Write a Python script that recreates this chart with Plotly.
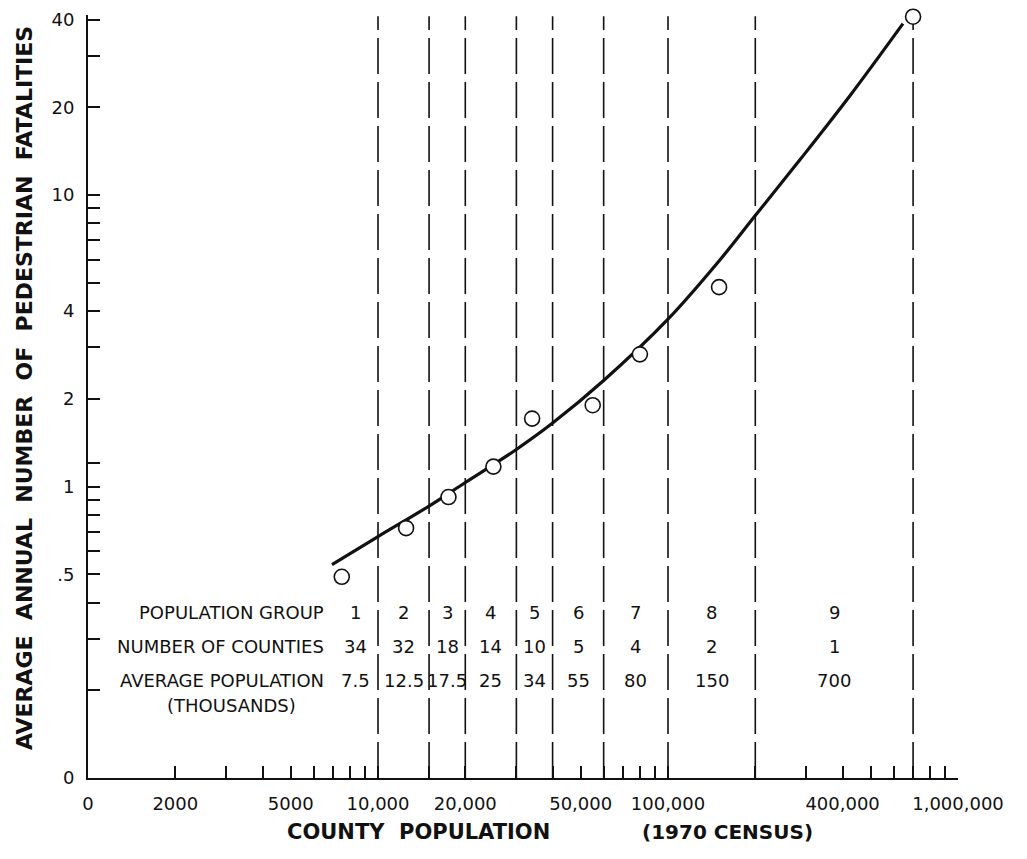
import numpy as np
import plotly.graph_objects as go

# ---------------- data ----------------
# observed group averages
group_avg_pop = [7500, 12500, 17500, 25000, 34000, 55000, 80000, 150000, 700000]
group_fatalities = [0.49, 0.72, 0.92, 1.17, 1.71, 1.90, 2.84, 4.83, 40.9]

# fitted curve
curve_pop = [6940, 10000, 15000, 20000, 30000, 40000, 60000, 100000,
             150000, 200000, 285000, 424000, 646000]
curve_fat = [0.539, 0.673, 0.857, 1.032, 1.34, 1.65, 2.31, 3.75,
             5.94, 8.5, 13.2, 21.9, 38.7]

# population group table
group_edges = [7000, 10000, 15000, 20000, 30000, 40000, 60000, 100000, 200000, 700000]
group_numbers = ["1", "2", "3", "4", "5", "6", "7", "8", "9"]
num_counties = ["34", "32", "18", "14", "10", "5", "4", "2", "1"]
avg_pop_thousands = ["7.5", "12.5", "17.5", "25", "34", "55", "80", "150", "700"]

# axes ticks
x_tickvals = [1000, 2000, 3000, 4000, 5000, 6000, 7000, 8000, 9000, 10000, 15000,
              20000, 30000, 40000, 50000, 60000, 70000, 80000, 90000, 100000,
              200000, 300000, 400000, 500000, 600000, 700000, 800000, 900000, 1000000]
x_labels = {1000: "0", 2000: "2000", 5000: "5000", 10000: "10,000", 20000: "20,000",
            50000: "50,000", 100000: "100,000", 400000: "400,000", 1000000: "1,000,000"}
y_tickvals = [0.1, 0.2, 0.3, 0.4, 0.5, 0.6, 0.7, 0.8, 0.9, 1, 1.2, 2, 3, 4, 5, 6, 7, 8, 9,
              10, 20, 30, 40]
y_labels = {0.1: "0", 0.5: ".5", 1: "1", 2: "2", 4: "4", 10: "10", 20: "20", 40: "40"}

FONT = "DejaVu Sans"
INK = "#111111"

fig = go.Figure()

# vertical dashed group boundaries
dx, dy = [], []
for e in group_edges[1:]:
    dx += [e, e, None]
    dy += [0.1, 41.0, None]
fig.add_trace(go.Scatter(x=dx, y=dy, mode="lines",
                         line=dict(color=INK, width=1.6, dash="36px,8px"),
                         hoverinfo="skip", showlegend=False))

# fitted curve
fig.add_trace(go.Scatter(x=curve_pop, y=curve_fat, mode="lines",
                         line=dict(color=INK, width=3.2, shape="spline", smoothing=1.0),
                         showlegend=False, cliponaxis=False))

# observed points
fig.add_trace(go.Scatter(x=group_avg_pop, y=group_fatalities, mode="markers",
                         marker=dict(size=15, color="white",
                                     line=dict(color=INK, width=1.6)),
                         showlegend=False, cliponaxis=False))

# table values at group centres
centers = [np.sqrt(a * b) for a, b in zip(group_edges[:-1], group_edges[1:])]
row_y = [0.2163, 0.1730, 0.1284]
for row, vals in zip(row_y, [group_numbers, num_counties, avg_pop_thousands]):
    for c, v in zip(centers, vals):
        fig.add_annotation(x=np.log10(c), xref="x", y=row, yref="paper", text=v,
                           showarrow=False, xanchor="center", yanchor="middle",
                           font=dict(family=FONT, size=18, color=INK))

row_labels = ["POPULATION GROUP", "NUMBER OF COUNTIES", "AVERAGE POPULATION"]
for row, lab in zip(row_y, row_labels):
    fig.add_annotation(x=0.2735, xref="paper", y=row, yref="paper", text=lab,
                       showarrow=False, xanchor="right", yanchor="middle",
                       font=dict(family=FONT, size=18, color=INK))
fig.add_annotation(x=0.1655, xref="paper", y=0.0944, yref="paper", text="(THOUSANDS)",
                   showarrow=False, xanchor="center", yanchor="middle",
                   font=dict(family=FONT, size=18, color=INK))

# axis titles
fig.add_annotation(x=(418 - 88) / 870, xref="paper", y=-0.0708, yref="paper",
                   text="<b>COUNTY  POPULATION</b>",
                   showarrow=False, xanchor="center", yanchor="middle",
                   font=dict(family=FONT, size=21, color=INK))
fig.add_annotation(x=(727 - 88) / 870, xref="paper", y=-0.0708, yref="paper",
                   text="<b>(1970 CENSUS)</b>",
                   showarrow=False, xanchor="center", yanchor="middle",
                   font=dict(family=FONT, size=20, color=INK))
fig.add_annotation(x=-0.0736, xref="paper", y=0.511, yref="paper",
                   text="<b>AVERAGE  ANNUAL  NUMBER  OF  PEDESTRIAN  FATALITIES</b>",
                   textangle=-90, showarrow=False, xanchor="center", yanchor="middle",
                   font=dict(family=FONT, size=22, color=INK))

fig.update_xaxes(type="log", range=[3, 6], showgrid=False, zeroline=False,
                 showline=True, linecolor=INK, linewidth=2, automargin=False,
                 ticks="inside", ticklen=12, tickwidth=1.6, tickcolor=INK,
                 tickvals=x_tickvals, ticktext=[x_labels.get(v, "") for v in x_tickvals],
                 tickfont=dict(family=FONT, size=18, color=INK), ticklabelstandoff=8)
fig.update_yaxes(type="log", range=[-1, 1.6175], showgrid=False, zeroline=False,
                 showline=True, linecolor=INK, linewidth=2, automargin=False,
                 ticks="inside", ticklen=12, tickwidth=1.6, tickcolor=INK,
                 tickvals=y_tickvals, ticktext=[y_labels.get(v, "") for v in y_tickvals],
                 tickfont=dict(family=FONT, size=18, color=INK), ticklabelstandoff=8)

# the page body adds an 8px offset, so the figure is 8px smaller on each axis
fig.update_layout(width=1019, height=851, margin=dict(l=80, r=69, t=7, b=81),
                  paper_bgcolor="white", plot_bgcolor="white", showlegend=False)

fig.write_html("out.html")
